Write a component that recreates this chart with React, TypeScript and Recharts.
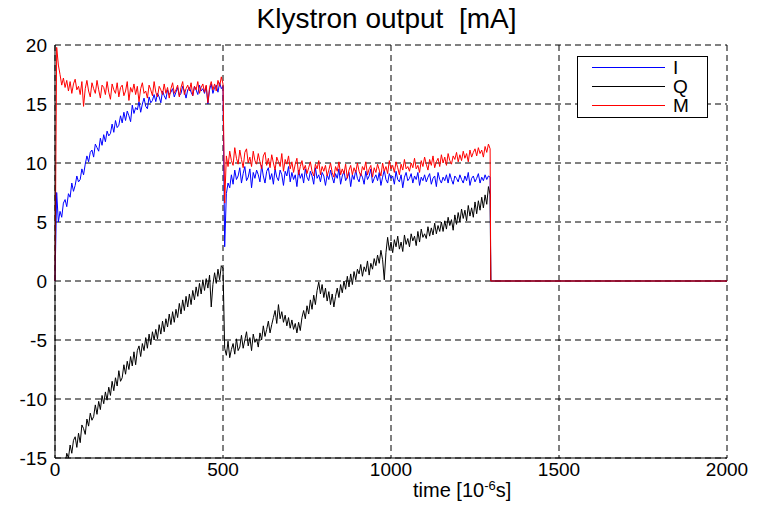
import { CartesianGrid, Line, LineChart, XAxis, YAxis } from "recharts";

// sampling grid in microseconds: 0..1295 every 5, then the off period
const times = [...Array.from({ length: 260 }, (_, i) => i * 5), 1297, 2000];

const xTicks = [0, 500, 1000, 1500, 2000];
const yTicks = [-15, -10, -5, 0, 5, 10, 15, 20];

// I channel (blue)
const iValues = [
  0, 7.5, 5.0, 5.9, 5.4, 6.6, 6.9, 6.3, 7.4, 7.1,
  8.3, 7.6, 8.1, 8.9, 8.4, 8.6, 9.5, 9.0, 9.9, 10.6,
  10.1, 10.9, 11.1, 10.5, 11.6, 11.3, 11.0, 12.1, 11.5, 12.4,
  11.8, 12.7, 12.3, 12.5, 13.3, 12.6, 13.6, 13.0, 13.2, 14.0,
  13.4, 14.3, 13.6, 14.4, 14.0, 13.5, 14.9, 14.2, 14.7, 14.5,
  15.2, 14.3, 15.0, 15.5, 14.8, 14.6, 15.6, 15.1, 15.3, 15.8,
  15.2, 15.9, 15.6, 15.1, 16.1, 15.7, 15.4, 16.2, 15.8, 16.0,
  16.3, 15.6, 16.0, 16.4, 15.7, 15.9, 16.5, 16.1, 15.5, 16.2,
  16.4, 16.0, 15.7, 16.5, 16.2, 15.8, 16.6, 16.1, 16.3, 15.9,
  16.5, 15.0, 16.2, 16.7, 15.9, 16.4, 16.6, 16.0, 16.8, 16.3, 16.5,
  2.9, 7.4, 8.3, 7.9, 9.0, 8.2, 9.4, 8.6, 8.9, 9.6,
  8.3, 9.1, 9.7, 8.5, 8.8, 9.5, 7.9, 9.2, 8.7, 9.4,
  9.0, 8.4, 9.8, 8.9, 8.3, 9.3, 9.6, 8.6, 9.1, 8.2,
  9.5, 8.8, 8.5, 9.4, 9.0, 8.1, 9.3, 8.9, 9.7, 8.4,
  9.2, 8.6, 9.0, 8.0, 9.4, 8.7, 9.1, 8.3, 9.5, 8.8,
  8.5, 9.3, 8.9, 8.2, 9.6, 8.7, 9.0, 8.4, 9.2, 8.9,
  8.1, 9.0, 8.6, 9.4, 8.8, 8.3, 9.1, 8.7, 9.5, 8.2,
  8.9, 9.3, 8.5, 8.8, 9.2, 8.0, 9.0, 8.6, 9.4, 8.7,
  8.4, 9.1, 8.8, 8.2, 9.3, 8.6, 8.9, 9.5, 8.3, 8.7,
  9.0, 8.5, 9.2, 8.1, 8.8, 9.4, 8.6, 8.3, 9.1, 8.7,
  8.9, 8.2, 9.3, 8.6, 8.4, 9.0, 7.9, 8.8, 9.2, 8.5,
  8.7, 9.1, 8.3, 8.9, 8.6, 9.2, 8.1, 8.8, 8.5, 9.0,
  8.4, 8.8, 9.1, 8.2, 8.7, 8.9, 8.0, 9.2, 8.6, 8.3,
  8.8, 8.5, 9.0, 8.3, 9.1, 8.6, 8.2, 8.9, 8.7, 8.4,
  9.0, 8.6, 8.3, 8.9, 8.5, 9.2, 8.1, 8.7, 8.9, 8.4,
  8.7, 9.1, 8.3, 8.8, 8.5, 9.0, 8.6, 8.9, 8.8,
  0, 0,
];

// Q channel (black)
const qValues = [
  -19, -18.6, -17.9, -17.0, -16.2, -15.1, -15.6, -14.6, -15.0, -13.9,
  -14.6, -13.5, -13.2, -14.1, -12.9, -13.7, -12.2, -12.5, -13.0, -11.7,
  -12.3, -11.2, -11.8, -11.5, -10.5, -11.3, -10.2, -10.9, -9.7, -10.4,
  -9.4, -10.1, -9.0, -9.7, -8.5, -9.3, -8.2, -8.9, -7.6, -8.5,
  -8.2, -7.1, -7.9, -6.8, -7.5, -6.4, -7.2, -6.0, -7.1, -5.9,
  -5.5, -6.4, -5.3, -5.9, -4.8, -5.7, -4.5, -5.4, -4.3, -5.0,
  -4.1, -4.9, -3.7, -4.5, -3.4, -4.3, -3.2, -3.9, -2.8, -3.7,
  -2.6, -3.5, -2.4, -3.1, -1.9, -2.8, -1.6, -2.5, -1.3, -2.2,
  -1.1, -2.0, -0.8, -1.6, -0.5, -1.3, -0.2, -1.1, 0.1, -0.8,
  0.2, -0.6, 0.5, -2.2, -0.3, 0.7, -0.2, 1.0, 0.1, 1.3, 1.1,
  -5.7, -6.3, -5.1, -6.5, -5.8, -5.3, -6.2, -4.9, -5.9, -5.6,
  -4.6, -5.7, -5.0, -4.3, -5.5, -4.8, -5.9, -4.5, -5.2, -4.9,
  -5.6, -4.4, -5.0, -3.8, -4.7, -4.1, -3.4, -4.4, -3.7, -3.1,
  -2.5, -3.6, -2.0, -3.2, -2.6, -3.5, -2.9, -3.8, -3.1, -4.0,
  -3.3, -4.1, -3.6, -4.4, -3.5, -4.2, -3.1, -2.5, -3.2, -2.1,
  -2.8, -1.6, -2.4, -1.2, -2.0, -0.8, -0.1, -1.1, -0.3, -1.4,
  -0.6, -1.7, -0.9, -2.0, -1.1, -2.2, -1.3, -0.6, -1.4, -0.3,
  -1.0, 0.0, -0.7, 0.4, -0.5, 0.6, -0.3, 0.8, 0.1, 1.0,
  0.6, 1.4, 0.4, 1.2, 0.8, 1.7, 0.5, 1.5, 1.0, 1.9,
  1.3, 2.2, 1.5, 2.6, 1.8, 0.1, 2.4, 3.7, 2.6, 3.3,
  2.4, 3.5, 2.9, 3.8, 2.7, 3.3, 2.5, 3.9, 3.1, 3.6,
  2.9, 4.0, 3.4, 3.8, 3.0, 4.2, 3.3, 4.4, 3.7, 4.0,
  3.6, 4.6, 3.8, 4.5, 3.9, 4.9, 4.0, 4.7, 4.2, 5.0,
  4.2, 5.1, 4.4, 5.4, 4.7, 5.2, 4.3, 5.6, 4.8, 5.8,
  5.0, 6.1, 5.3, 6.0, 5.1, 6.4, 5.5, 6.2, 5.4, 6.7,
  5.7, 6.8, 6.0, 7.1, 6.2, 7.3, 6.5, 8.0, 7.3,
  0, 0,
];

// magnitude (red)
const mValues = [
  0, 19.8, 18.3, 17.5, 16.6, 17.2, 16.4, 17.0, 16.1, 16.9,
  15.9, 16.7, 17.1, 16.2, 16.5, 15.8, 16.9, 14.8, 16.3, 17.0,
  16.1, 15.6, 16.8, 16.3, 15.9, 17.0, 16.2, 15.5, 16.6, 16.4,
  15.8, 16.9, 16.0, 15.4, 16.7, 16.2, 15.9, 16.8, 15.6, 16.4,
  16.6, 15.7, 16.1, 16.9, 15.3, 16.4, 16.0, 16.7, 15.8, 16.5,
  15.2, 16.3, 16.8, 15.9, 16.1, 15.5, 16.6, 16.2, 15.7, 16.9,
  16.0, 15.6, 16.5, 16.2, 15.8, 16.7, 15.9, 16.4, 15.5, 16.3,
  16.8, 15.9, 16.2, 16.6, 15.6, 16.4, 16.9, 15.8, 16.3, 16.6,
  16.1, 16.8, 15.7, 16.5, 16.2, 16.9, 15.9, 16.4, 16.7, 16.0,
  16.6, 15.1, 16.4, 16.9, 16.2, 16.7, 16.1, 17.0, 16.5, 17.3, 16.7,
  6.6, 10.6, 9.7, 11.0, 10.2, 9.8, 11.3, 10.4, 9.9, 11.1,
  10.3, 9.6, 10.9, 11.2, 10.0, 10.5, 9.7, 11.0, 10.2, 9.9,
  10.8, 10.1, 9.5, 10.6, 10.9, 9.8, 10.4, 9.6, 10.7, 10.0,
  9.4, 10.5, 10.1, 9.7, 10.8, 9.3, 10.3, 9.9, 10.6, 9.5,
  10.1, 9.2, 9.9, 10.4, 9.0, 9.7, 10.2, 9.4, 9.8, 9.1,
  9.6, 10.1, 9.3, 8.9, 9.9, 9.5, 10.2, 9.0, 9.7, 9.3,
  9.8, 8.9, 9.4, 10.0, 9.2, 8.8, 9.7, 9.3, 10.1, 9.0,
  9.5, 9.1, 9.9, 8.7, 9.4, 9.8, 9.0, 9.6, 9.2, 10.0,
  9.3, 8.9, 9.7, 9.4, 10.1, 9.0, 9.5, 9.8, 8.8, 9.6,
  9.2, 9.9, 9.4, 8.9, 10.0, 9.3, 9.7, 9.1, 10.2, 9.5,
  9.8, 9.2, 10.1, 9.6, 9.0, 9.9, 9.4, 10.3, 9.5, 9.7,
  9.3, 10.0, 9.6, 10.4, 9.5, 9.8, 9.2, 10.2, 9.7, 10.5,
  9.9, 9.4, 10.3, 9.8, 10.6, 9.6, 10.1, 10.4, 9.7, 10.7,
  10.0, 10.5, 9.8, 10.8, 10.2, 9.9, 10.6, 10.3, 10.9, 10.1,
  10.7, 10.2, 11.0, 10.4, 10.8, 10.1, 11.1, 10.5, 10.9, 11.2,
  10.6, 11.3, 10.8, 11.1, 10.5, 11.4, 10.9, 11.6, 11.2,
  0, 0,
];

const series = [
  { key: "I", color: "#0000ff" },
  { key: "Q", color: "#000000" },
  { key: "M", color: "#ff0000" },
];

const data = times.map((t, idx) => ({ t, I: iValues[idx], Q: qValues[idx], M: mValues[idx] }));

const FONT = '"Liberation Sans", Arial, Helvetica, sans-serif';

function LegendBox() {
  return (
    <svg
      width={132}
      height={63}
      style={{ position: "absolute", left: 577, top: 56, display: "block" }}
    >
      <rect x={0.5} y={0.5} width={130} height={61} fill="#fff" stroke="#000" strokeWidth={1} />
      {series.map((s, i) => (
        <g key={s.key}>
          <line x1={15} x2={88} y1={11.5 + i * 19} y2={11.5 + i * 19} stroke={s.color} strokeWidth={1} />
          <text x={96} y={18 + i * 19} fontFamily={FONT} fontSize={19} fill="#000">
            {s.key}
          </text>
        </g>
      ))}
    </svg>
  );
}

export default function App() {
  return (
    <div style={{ position: "absolute", left: 0, top: 0, width: 759, height: 507, background: "#fff" }}>
      <div
        style={{
          position: "absolute",
          left: 0,
          width: 773,
          top: 2,
          textAlign: "center",
          fontFamily: FONT,
          fontSize: 28,
          lineHeight: "34px",
          color: "#000",
        }}
      >
        Klystron output&nbsp; [mA]
      </div>
      <LineChart width={759} height={507} data={data} margin={{ top: 45, right: 32, bottom: 0, left: 0 }}>
        <CartesianGrid stroke="#000" strokeDasharray="6 4" vertical horizontal />
        <XAxis
          dataKey="t"
          type="number"
          domain={[0, 2000]}
          ticks={xTicks}
          height={49}
          tickLine={false}
          tickSize={4}
          tickMargin={1}
          axisLine={{ stroke: "#000" }}
          tick={{ fill: "#000", fontSize: 19, fontFamily: FONT }}
        />
        <YAxis
          type="number"
          domain={[-15, 20]}
          ticks={yTicks}
          width={55}
          allowDataOverflow
          tickLine={false}
          tickSize={6}
          tickMargin={2}
          axisLine={{ stroke: "#000" }}
          tick={{ fill: "#000", fontSize: 19, fontFamily: FONT }}
        />
        {series.map((s) => (
          <Line
            key={s.key}
            dataKey={s.key}
            type="linear"
            stroke={s.color}
            strokeWidth={1}
            dot={false}
            activeDot={false}
            isAnimationActive={false}
          />
        ))}
      </LineChart>
      <LegendBox />
      <div
        style={{
          position: "absolute",
          left: 413,
          top: 478,
          fontFamily: FONT,
          fontSize: 20,
          lineHeight: "24px",
          color: "#000",
          whiteSpace: "nowrap",
        }}
      >
        time [10<sup style={{ fontSize: 13, verticalAlign: "7px", lineHeight: 0 }}>-6</sup>s]
      </div>
    </div>
  );
}
